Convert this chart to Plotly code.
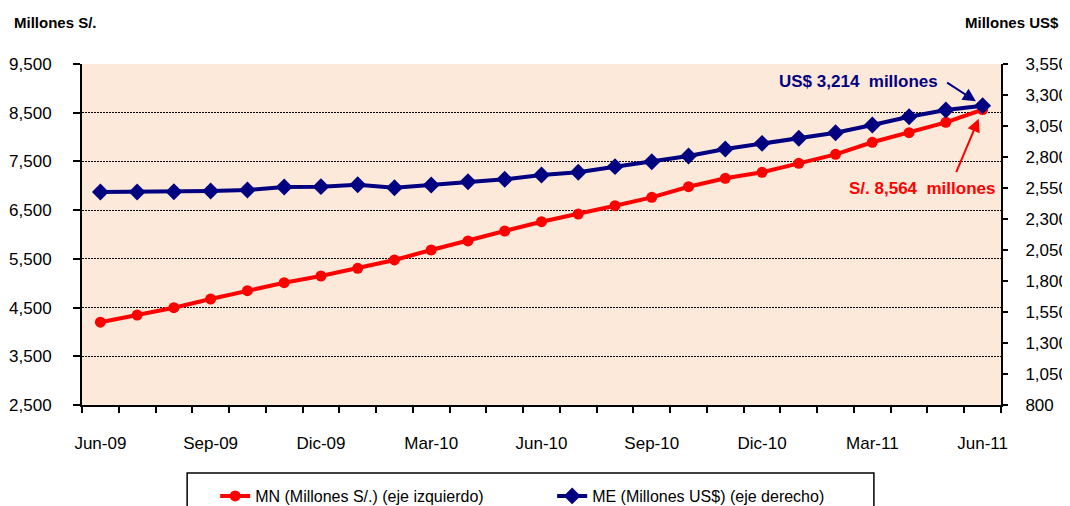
import plotly.graph_objects as go

months = ["Jun-09", "Jul-09", "Ago-09", "Sep-09", "Oct-09", "Nov-09", "Dic-09",
          "Ene-10", "Feb-10", "Mar-10", "Abr-10", "May-10", "Jun-10", "Jul-10",
          "Ago-10", "Sep-10", "Oct-10", "Nov-10", "Dic-10", "Ene-11", "Feb-11",
          "Mar-11", "Abr-11", "May-11", "Jun-11"]
mn_soles = [4200, 4347, 4498, 4676, 4847, 5011, 5148, 5306, 5477, 5682, 5867, 6072,
            6263, 6421, 6591, 6763, 6981, 7154, 7277, 7461, 7646, 7893, 8090, 8303, 8564]
me_dolares = [2518, 2518, 2520, 2526, 2534, 2558, 2561, 2576, 2552, 2574, 2601, 2620,
              2655, 2677, 2722, 2762, 2808, 2864, 2910, 2951, 2996, 3058, 3125, 3179, 3214]
label_months = ["Jun-09", "Sep-09", "Dic-09", "Mar-10", "Jun-10", "Sep-10", "Dic-10", "Mar-11", "Jun-11"]

xidx = list(range(len(months)))
label_idx = [months.index(m) for m in label_months]

FONT = "Liberation Sans, Arial, sans-serif"
RED = "#FF0000"
NAVY = "#000080"

fig = go.Figure()
fig.add_trace(go.Scatter(
    x=xidx, y=mn_soles, name="MN (Millones S/.) (eje izquierdo)", mode="lines+markers",
    line=dict(color=RED, width=4), marker=dict(symbol="circle", size=11, color=RED),
    yaxis="y"))
fig.add_trace(go.Scatter(
    x=xidx, y=me_dolares, name="ME (Millones US$) (eje derecho)", mode="lines+markers",
    line=dict(color=NAVY, width=4), marker=dict(symbol="diamond", size=13, color=NAVY),
    yaxis="y2"))

# The page body adds an 8px margin, so the figure is 8px smaller on each axis.
fig.update_layout(
    width=1062, height=498,
    margin=dict(l=74, r=69, t=56, b=101, autoexpand=False),
    paper_bgcolor="white", plot_bgcolor="#FDE9D9",
    font=dict(family=FONT, size=17, color="black"),
    showlegend=True,
    legend=dict(orientation="h", x=0.1449, xanchor="left", y=-0.217, yanchor="top",
                borderwidth=0, bgcolor="rgba(0,0,0,0)",
                font=dict(size=16), entrywidth=292, entrywidthmode="pixels"),
    xaxis=dict(range=[-0.5, len(months) - 0.5], tickvals=label_idx, ticktext=label_months,
               ticks="", showgrid=False, zeroline=False, showline=True, linecolor="black",
               linewidth=2, ticklabelstandoff=22, automargin=False,
               minor=dict(tickvals=[i - 0.5 for i in range(len(months) + 1)],
                          ticks="outside", ticklen=6, tickwidth=1.5, tickcolor="black")),
    yaxis=dict(range=[2500, 9500], dtick=1000, tick0=2500, tickformat=",",
               showgrid=True, gridcolor="black", gridwidth=1, griddash="2px,1px",
               zeroline=False, showline=True, linecolor="black", linewidth=2,
               ticks="outside", ticklen=7, tickwidth=1.5, tickcolor="black",
               ticklabelstandoff=18, automargin=False),
    yaxis2=dict(range=[800, 3550], dtick=250, tick0=800, tickformat=",",
                overlaying="y", side="right", showgrid=False, zeroline=False,
                showline=True, linecolor="black", linewidth=2,
                ticks="outside", ticklen=5, tickwidth=1.5, tickcolor="black",
                ticklabelstandoff=14, automargin=False),
    shapes=[dict(type="rect", xref="paper", yref="paper", x0=0.1144, x1=0.8617,
                 y0=-0.1994, y1=-0.33, line=dict(color="black", width=1.5),
                 fillcolor="rgba(0,0,0,0)", layer="below")],
)

fig.add_annotation(text="<b>Millones S/.</b>", xref="paper", yref="paper", x=-0.076, y=1.123,
                   xanchor="left", yanchor="middle", showarrow=False, font=dict(size=15))
fig.add_annotation(text="<b>Millones US$</b>", xref="paper", yref="paper", x=1.065, y=1.123,
                   xanchor="right", yanchor="middle", showarrow=False, font=dict(size=15))

# Blue label and arrow
fig.add_annotation(text="<b>US$ 3,214  millones</b>", x=xidx[-1], y=me_dolares[-1], xref="x", yref="y2",
                   showarrow=False, xshift=-124, yshift=24, font=dict(color=NAVY, size=17))
fig.add_annotation(text="", x=xidx[-1], y=me_dolares[-1], xref="x", yref="y2",
                   showarrow=True, ax=-37, ay=-24, arrowhead=2, arrowsize=1.3, arrowwidth=2,
                   arrowcolor=NAVY, standoff=8)
# Red label and arrow
fig.add_annotation(text="<b>S/. 8,564  millones</b>", x=xidx[-1], y=mn_soles[-1], xref="x", yref="y",
                   showarrow=False, xshift=-61, yshift=-79, font=dict(color=RED, size=17))
fig.add_annotation(text="", x=xidx[-1], y=mn_soles[-1], xref="x", yref="y",
                   showarrow=True, ax=-27, ay=64, arrowhead=2, arrowsize=1.3, arrowwidth=2,
                   arrowcolor=RED, standoff=10)

fig.write_html("out.html")
